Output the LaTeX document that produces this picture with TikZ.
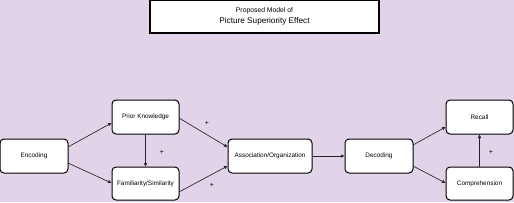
\documentclass[tikz,border=0pt]{standalone}
\usepackage{fontspec}
\setmainfont{Liberation Sans}
\usetikzlibrary{arrows.meta}
\definecolor{bg}{RGB}{226,212,232}
\definecolor{ln}{RGB}{40,30,45}
\begin{document}
\begin{tikzpicture}[x=1pt,y=-1pt,
  box/.style={draw=black,line width=1pt,fill=white,rounded corners=4pt,inner sep=0pt,font=\fontsize{6.4}{7}\selectfont},
  conn/.style={draw=ln,line width=0.65pt,-{Triangle[length=3.5pt,width=3pt]}},
  plus/.style={font=\fontsize{7}{8}\selectfont,inner sep=0pt}]
\fill[bg] (0,0) rectangle (514,202);
\useasboundingbox (0,0) rectangle (514,202);
\node[draw=black,line width=1.1pt,fill=white,minimum width=229pt,minimum height=33pt,inner sep=0pt,align=center] (title) at (264.5,16.5)
  {{\fontsize{6.8}{7.8}\selectfont Proposed Model of}\\[-0.5pt]{\fontsize{8.2}{9.2}\selectfont Picture Superiority Effect}};
\node[box,minimum width=68pt,minimum height=34pt] (enc) at (34,156) {Encoding};
\node[box,minimum width=67pt,minimum height=34pt] (prior) at (145.5,117) {Prior Knowledge};
\node[box,minimum width=67pt,minimum height=33pt] (fam) at (145.5,183.5) {Familiarity/Similarity};
\node[box,minimum width=84pt,minimum height=34pt] (assoc) at (270,156) {Association/Organization};
\node[box,minimum width=68pt,minimum height=34pt] (dec) at (379,156) {Decoding};
\node[box,minimum width=67pt,minimum height=34pt] (recall) at (479.5,117) {Recall};
\node[box,minimum width=67pt,minimum height=33pt] (comp) at (479.5,183.5) {Comprehension};
\coordinate (a1) at (68,147); \coordinate (a2) at (111.5,123);
\coordinate (b1) at (68,163); \coordinate (b2) at (111.5,183);
\draw[conn] (a1) -- (a2);
\draw[conn] (b1) -- (b2);
\draw[conn] (prior.south) -- (fam.north);
\coordinate (c1) at (179,118); \coordinate (c2) at (227.5,147);
\coordinate (d1) at (179,192); \coordinate (d2) at (227.5,166);
\draw[conn] (c1) -- (c2);
\draw[conn] (d1) -- (d2);
\draw[conn] (assoc.east) -- (dec.west);
\coordinate (e1) at (413,145); \coordinate (e2) at (445.5,127);
\coordinate (f1) at (413,166); \coordinate (f2) at (445.5,183);
\draw[conn] (e1) -- (e2);
\draw[conn] (f1) -- (f2);
\draw[conn] (comp.north) -- (recall.south);
\node[plus] (p1) at (207,123) {+};
\node[plus] (p2) at (162,152) {+};
\node[plus] (p3) at (212,185) {+};
\node[plus] (p4) at (491,152) {+};
\end{tikzpicture}
\end{document}
